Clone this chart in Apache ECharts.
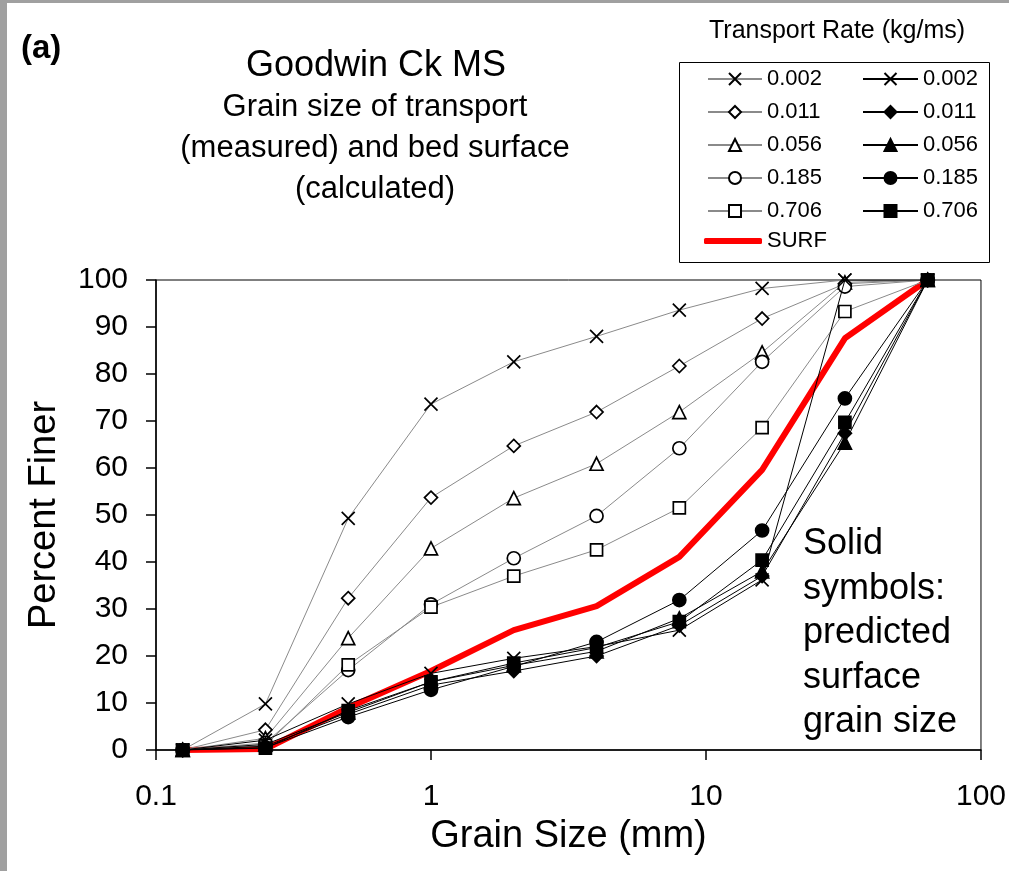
<!DOCTYPE html>
<html>
<head>
<meta charset="utf-8">
<title>Goodwin Ck MS grain size</title>
<script src="https://cdn.jsdelivr.net/npm/echarts@6/dist/echarts.min.js"></script>
<style>
  html, body { margin: 0; padding: 0; background: #fff; }
  #chart { position: absolute; left: 0; top: 0; width: 1009px; height: 871px; }
  .frame { position: absolute; background: #a0a0a0; }
</style>
</head>
<body>
<div id="chart"></div>
<div class="frame" style="left:0;top:0;width:1009px;height:3px;"></div>
<div class="frame" style="left:0;top:0;width:7px;height:871px;"></div>
<script>
// Sieve sizes (mm)
const grainSizes = [0.125, 0.25, 0.5, 1, 2, 4, 8, 16, 32, 64];

// Transport rate classes (kg/ms)
const rateLabels = ['0.002', '0.011', '0.056', '0.185', '0.706'];

// Measured transport grain size, percent finer
const measured002 = [0, 9.8, 49.3, 73.6, 82.6, 88.0, 93.6, 98.2, 100, 100];
const measured011 = [0, 4.3, 32.3, 53.7, 64.7, 71.9, 81.7, 91.8, 99.2, 100];
const measured056 = [0, 2.5, 23.8, 42.9, 53.6, 60.9, 71.9, 84.6, 99.5, 100];
const measured185 = [0, 1.5, 17.0, 31.0, 40.8, 49.8, 64.2, 82.6, 98.6, 100];
const measured706 = [0, 1.0, 18.1, 30.4, 37.0, 42.6, 51.5, 68.6, 93.3, 100];

// Predicted surface grain size, percent finer
const predicted002 = [0, 2.1, 9.8, 16.3, 19.5, 22.0, 25.5, 36.2, 100, 100];
const predicted011 = [0, 0.8, 7.6, 13.8, 16.8, 20.0, 26.5, 37.0, 67.4, 100];
const predicted056 = [0, 1.2, 8.0, 14.5, 18.0, 21.0, 28.0, 38.0, 65.4, 100];
const predicted185 = [0, 0.5, 7.0, 12.8, 17.8, 23.0, 31.9, 46.7, 74.8, 100];
const predicted706 = [0, 0.4, 8.4, 14.5, 18.5, 21.8, 27.3, 40.4, 69.7, 100];

// Calculated bed surface
const surf = [0, 0.2, 9.0, 16.8, 25.5, 30.6, 41.1, 59.6, 87.6, 100];

const measuredSets = [measured002, measured011, measured056, measured185, measured706];
const predictedSets = [predicted002, predicted011, predicted056, predicted185, predicted706];

const FONT = '"Liberation Sans", Arial, sans-serif';
const crossPath = 'path://M0,0L10,10M10,0L0,10';
const symbols = [crossPath, 'diamond', 'triangle', 'circle', 'rect'];
const symbolSizes = [13, 13, 13, 13, 12];

function pairs(values) {
  return grainSizes.map((g, i) => [g, values[i]]);
}

const series = [];
series.push({
  name: 'SURF',
  type: 'line',
  data: pairs(surf),
  symbol: 'none',
  lineStyle: { color: '#ff0000', width: 6 },
  itemStyle: { color: '#ff0000' },
  z: 2
});
rateLabels.forEach((r, k) => {
  series.push({
    name: 'm' + r,
    type: 'line',
    data: pairs(measuredSets[k]),
    symbol: symbols[k],
    symbolSize: symbolSizes[k],
    lineStyle: { color: '#8a8a8a', width: 1 },
    itemStyle: { color: '#ffffff', borderColor: '#000', borderWidth: 1.7 },
    z: 3
  });
});
rateLabels.forEach((r, k) => {
  series.push({
    name: 'p' + r,
    type: 'line',
    data: pairs(predictedSets[k]),
    symbol: symbols[k],
    symbolSize: symbolSizes[k],
    lineStyle: { color: '#000', width: 1 },
    itemStyle: { color: '#000', borderColor: '#000', borderWidth: 1.7 },
    z: 4
  });
});

const stripPrefix = name => name.slice(1);

const chart = echarts.init(document.getElementById('chart'), null, { renderer: 'canvas' });
chart.setOption({
  animation: false,
  backgroundColor: 'transparent',
  textStyle: { fontFamily: FONT, color: '#000' },
  title: [
    { text: '(a)', left: 16, top: 27, textStyle: { fontFamily: FONT, fontSize: 33, fontWeight: 'bold', color: '#000' } },
    { text: 'Goodwin Ck MS', left: 371, top: 43, textAlign: 'center', textStyle: { fontFamily: FONT, fontSize: 36, fontWeight: 'normal', color: '#000' } },
    { text: 'Grain size of transport\n(measured) and bed surface\n(calculated)', left: 370, top: 82, textAlign: 'center',
      textStyle: { fontFamily: FONT, fontSize: 31, fontWeight: 'normal', color: '#000', lineHeight: 41, align: 'center' } },
    { text: 'Transport Rate (kg/ms)', left: 832, top: 14, textAlign: 'center', textStyle: { fontFamily: FONT, fontSize: 25, fontWeight: 'normal', color: '#000' } },
    { text: 'Solid\nsymbols:\npredicted\nsurface\ngrain size', left: 798, top: 517,
      textStyle: { fontFamily: FONT, fontSize: 36, fontWeight: 'normal', color: '#000', lineHeight: 44.5 } }
  ],
  legend: [
    {
      left: 702, top: 63, orient: 'vertical', itemWidth: 54, itemHeight: 15, itemGap: 11,
      data: rateLabels.map(r => 'm' + r),
      formatter: stripPrefix,
      textStyle: { fontFamily: FONT, fontSize: 22, color: '#000' },
      selectedMode: false
    },
    {
      left: 857, top: 63, orient: 'vertical', itemWidth: 55, itemHeight: 15, itemGap: 11,
      data: rateLabels.map(r => 'p' + r),
      formatter: stripPrefix,
      textStyle: { fontFamily: FONT, fontSize: 22, color: '#000' },
      selectedMode: false
    },
    {
      left: 699, top: 225, orient: 'vertical', itemWidth: 58, itemHeight: 6,
      data: [{ name: 'SURF', icon: 'roundRect' }],
      textStyle: { fontFamily: FONT, fontSize: 22, color: '#000' },
      selectedMode: false
    }
  ],
  graphic: [
    { type: 'rect', shape: { x: 679.5, y: 62.5, width: 310, height: 200 },
      style: { fill: 'none', stroke: '#000', lineWidth: 1 }, z: -1, silent: true }
  ],
  grid: {
    left: 156, top: 280, right: 27, bottom: 121,
    show: true, borderColor: '#000', borderWidth: 1, backgroundColor: '#fff'
  },
  xAxis: {
    type: 'log', logBase: 10, min: 0.1, max: 100,
    name: 'Grain Size (mm)', nameLocation: 'middle', nameGap: 68,
    nameTextStyle: { fontFamily: FONT, fontSize: 38, color: '#000' },
    axisLine: { lineStyle: { color: '#000', width: 1.5 } },
    axisTick: { inside: false, length: 10, lineStyle: { color: '#000', width: 1.5 } },
    minorTick: { show: false },
    axisLabel: { fontFamily: FONT, fontSize: 30, color: '#000', margin: 32 },
    splitLine: { show: false }
  },
  yAxis: {
    type: 'value', min: 0, max: 100, interval: 10,
    name: 'Percent Finer', nameLocation: 'middle', nameGap: 92,
    nameTextStyle: { fontFamily: FONT, fontSize: 38, color: '#000' },
    axisLine: { show: true, lineStyle: { color: '#000', width: 1.5 } },
    axisTick: { show: true, inside: false, length: 10, lineStyle: { color: '#000', width: 1.5 } },
    axisLabel: { fontFamily: FONT, fontSize: 30, color: '#000', margin: 28 },
    splitLine: { show: false }
  },
  series: series
});
</script>
</body>
</html>
